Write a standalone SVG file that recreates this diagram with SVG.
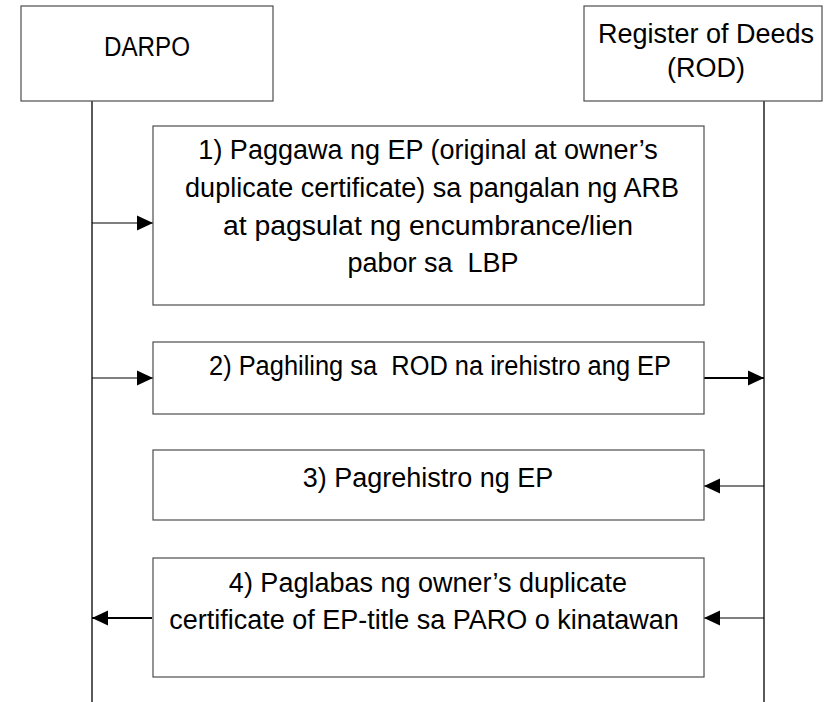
<svg xmlns="http://www.w3.org/2000/svg" width="825" height="702" viewBox="0 0 825 702">
  <style>
    .box { fill: #ffffff; stroke: #4d4d4d; stroke-width: 1.2; }
    .life { stroke: #000000; stroke-width: 1.3; fill: none; }
    .msg { stroke: #000000; stroke-width: 1.2; fill: none; marker-end: url(#head); }
    .msg-bold { stroke: #000000; stroke-width: 2.2; fill: none; marker-end: url(#head); }
    text { font-family: "Liberation Sans", Arial, sans-serif; font-size: 27px; fill: #000000; text-anchor: middle; }
  </style>
  <defs>
    <marker id="head" markerUnits="userSpaceOnUse" markerWidth="16" markerHeight="16" refX="16" refY="8" orient="auto">
      <path d="M0,0.5 L16,8 L0,15.5 Z" fill="#000000"/>
    </marker>
  </defs>

  <rect width="825" height="702" fill="#ffffff"/>

  <!-- lifelines and messages -->
  <g id="connectors">
    <line class="life" x1="92" y1="101" x2="92" y2="702"/>
    <line class="life" x1="764" y1="101" x2="764" y2="702"/>
    <line class="msg" x1="92" y1="223" x2="153" y2="223"/>
    <line class="msg" x1="92" y1="378" x2="153" y2="378"/>
    <line class="msg-bold" x1="704" y1="378" x2="764" y2="378"/>
    <line class="msg" x1="764" y1="486" x2="704" y2="486"/>
    <line class="msg" x1="764" y1="618" x2="704" y2="618"/>
    <line class="msg-bold" x1="152" y1="618" x2="92" y2="618"/>
  </g>

  <g id="darpo">
    <rect class="box" x="21" y="6" width="252" height="95"/>
    <text x="147" y="56" textLength="86" lengthAdjust="spacingAndGlyphs">DARPO</text>
  </g>

  <g id="rod">
    <rect class="box" x="584" y="6" width="238" height="95"/>
    <text x="706" y="43">Register of Deeds</text>
    <text x="706" y="77">(ROD)</text>
  </g>

  <g id="step1">
    <rect class="box" x="153" y="126" width="551" height="179"/>
    <text x="428" y="159">1) Paggawa ng EP (original at owner’s</text>
    <text x="432" y="197">duplicate certificate) sa pangalan ng ARB</text>
    <text x="428" y="235" textLength="410" lengthAdjust="spacingAndGlyphs">at pagsulat ng encumbrance/lien</text>
    <text x="433" y="272" xml:space="preserve">pabor sa  LBP</text>
  </g>

  <g id="step2">
    <rect class="box" x="153" y="342" width="551" height="72"/>
    <text x="440" y="375" xml:space="preserve" textLength="462" lengthAdjust="spacingAndGlyphs">2) Paghiling sa  ROD na irehistro ang EP</text>
  </g>

  <g id="step3">
    <rect class="box" x="153" y="450" width="551" height="70"/>
    <text x="428" y="487">3) Pagrehistro ng EP</text>
  </g>

  <g id="step4">
    <rect class="box" x="153" y="558" width="551" height="119"/>
    <text x="428" y="592">4) Paglabas ng owner’s duplicate</text>
    <text x="424" y="629">certificate of EP-title sa PARO o kinatawan</text>
  </g>
</svg>
